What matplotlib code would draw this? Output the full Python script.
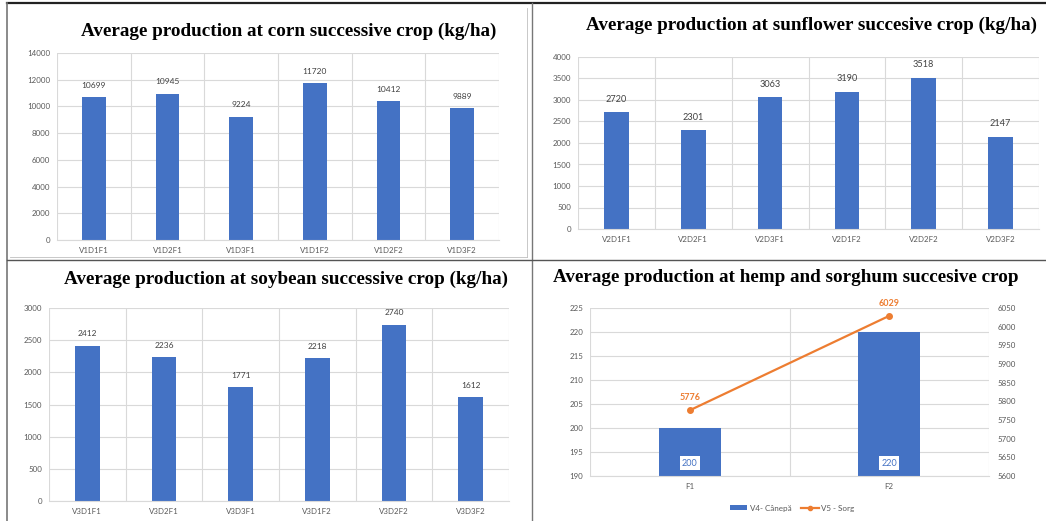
import matplotlib
matplotlib.use("Agg")
import matplotlib.pyplot as plt
from matplotlib.lines import Line2D
from matplotlib.patches import Patch

W, H = 1046, 521

# ---- data ----
corn_labels = ["V1D1F1", "V1D2F1", "V1D3F1", "V1D1F2", "V1D2F2", "V1D3F2"]
corn_values = [10699, 10945, 9224, 11720, 10412, 9889]

sunflower_labels = ["V2D1F1", "V2D2F1", "V2D3F1", "V2D1F2", "V2D2F2", "V2D3F2"]
sunflower_values = [2720, 2301, 3063, 3190, 3518, 2147]

soybean_labels = ["V3D1F1", "V3D2F1", "V3D3F1", "V3D1F2", "V3D2F2", "V3D3F2"]
soybean_values = [2412, 2236, 1771, 2218, 2740, 1612]

hs_labels = ["F1", "F2"]
hemp_values = [200, 220]
sorghum_values = [5776, 6029]

BLUE = "#4472C4"
ORANGE = "#ED7D31"
GRID = "#D9D9D9"
TICK = "#595959"
LABEL = "#404040"
SANS = ["Lato", "DejaVu Sans"]
SERIF = ["Liberation Serif", "DejaVu Serif"]
TITLE_FS = 13.8

fig = plt.figure(figsize=(W / 100, H / 100), dpi=100)
fig.patch.set_facecolor("white")


def rect(left, top, right, bottom):
    return [left / W, 1 - bottom / H, (right - left) / W, (bottom - top) / H]


def style_axes(ax, n):
    for s in ax.spines.values():
        s.set_visible(False)
    ax.spines["bottom"].set_visible(True)
    ax.spines["bottom"].set_color(GRID)
    ax.spines["bottom"].set_linewidth(0.8)
    ax.set_xlim(-0.5, n - 0.5)
    ax.set_xticks(range(n))
    ax.set_xticks([i + 0.5 for i in range(-1, n)], minor=True)
    ax.grid(True, axis="y", color=GRID, linewidth=0.8)
    ax.grid(True, axis="x", which="minor", color=GRID, linewidth=0.8)
    ax.grid(False, axis="x", which="major")
    ax.set_axisbelow(True)
    ax.tick_params(which="both", length=0)
    ax.tick_params(axis="both", labelsize=5.7, labelcolor=TICK, pad=5)
    for t in ax.get_xticklabels() + ax.get_yticklabels():
        t.set_family(SANS)


def bar_panel(box, labels, values, ymax, ystep, title, title_xy, fs_lab):
    ax = fig.add_axes(rect(*box))
    n = len(labels)
    bars = ax.bar(range(n), values, width=0.32, color=BLUE, zorder=2)
    ax.set_ylim(0, ymax)
    ax.set_yticks(range(0, ymax + 1, ystep))
    ax.set_xticklabels(labels)
    style_axes(ax, n)
    for b, v in zip(bars, values):
        ax.annotate(str(v), (b.get_x() + b.get_width() / 2, v),
                    xytext=(0, 6), textcoords="offset points",
                    ha="center", va="bottom", fontsize=fs_lab,
                    color=LABEL, family=SANS)
    fig.text(title_xy[0] / W, 1 - title_xy[1] / H, title, ha="center",
             va="center", fontsize=TITLE_FS, fontweight="bold", family=SERIF)
    return ax


bar_panel((57, 53, 499, 240), corn_labels, corn_values, 14000, 2000,
          "Average production at corn successive crop (kg/ha)", (289, 31), 6.0)
bar_panel((578, 57, 1039, 229), sunflower_labels, sunflower_values, 4000, 500,
          "Average production at sunflower succesive crop (kg/ha)", (812, 25), 6.6)
bar_panel((49, 308, 509, 501), soybean_labels, soybean_values, 3000, 500,
          "Average production at soybean successive crop (kg/ha)", (286, 279), 6.0)

# ---- hemp and sorghum: bars on left axis, line on right axis ----
ax4 = fig.add_axes(rect(590, 308, 989, 476))
b4 = ax4.bar(range(2), hemp_values, width=0.31, color=BLUE, zorder=2)
ax4.set_ylim(190, 225)
ax4.set_yticks(range(190, 226, 5))
ax4.set_xticks(range(2))
ax4.set_xticklabels(hs_labels)
style_axes(ax4, 2)
for b, v in zip(b4, hemp_values):
    ax4.annotate(str(v), (b.get_x() + b.get_width() / 2, 190),
                 xytext=(0, 6), textcoords="offset points",
                 ha="center", va="bottom", fontsize=6.5, color=BLUE,
                 family=SANS, zorder=4,
                 bbox=dict(boxstyle="square,pad=0.25", fc="white", ec="none"))

ax5 = ax4.twinx()
ax5.plot(range(2), sorghum_values, color=ORANGE, linewidth=1.6,
         marker="o", markersize=4, zorder=3)
ax5.set_ylim(5600, 6050)
ax5.set_yticks(range(5600, 6051, 50))
for s in ax5.spines.values():
    s.set_visible(False)
ax5.tick_params(length=0, labelsize=5.7, labelcolor=TICK, pad=6)
for t in ax5.get_yticklabels():
    t.set_family(SANS)
for x, v in zip(range(2), sorghum_values):
    ax5.annotate(str(v), (x, v), xytext=(0, 6), textcoords="offset points",
                 ha="center", va="bottom", fontsize=6.5, color=ORANGE,
                 fontweight="bold", family=SANS)

fig.text(786 / W, 1 - 277 / H, "Average production at hemp and sorghum succesive crop",
         ha="center", va="center", fontsize=TITLE_FS, fontweight="bold", family=SERIF)

handles = [Patch(facecolor=BLUE, edgecolor="none"),
           Line2D([0], [0], color=ORANGE, linewidth=1.6, marker="o", markersize=3)]
fig.legend(handles, ["V4- Cânepă", "V5 - Sorg"], loc="center",
           bbox_to_anchor=(792 / W, 1 - 508 / H), ncol=2, frameon=False,
           prop={"family": SANS, "size": 5.8}, labelcolor=TICK,
           handlelength=2.2, handleheight=0.6, columnspacing=1.2, handletextpad=0.3)

# ---- panel frame lines ----
frame = fig.add_axes([0, 0, 1, 1], zorder=-1)
frame.set_xlim(0, W)
frame.set_ylim(H, 0)
frame.axis("off")
frame.plot([7, W], [3, 3], color="#222222", linewidth=1.6)
frame.plot([7, 7], [3, H], color="#777777", linewidth=1.2)
frame.plot([532, 532], [3, H], color="#777777", linewidth=1.0)
frame.plot([7, W], [260, 260], color="#555555", linewidth=1.0)
frame.plot([527, 527], [8, 257], color="#BFBFBF", linewidth=0.6)
frame.plot([10, 527], [257, 257], color="#BFBFBF", linewidth=0.6)

fig.savefig("out.png", dpi=100, facecolor="white")
